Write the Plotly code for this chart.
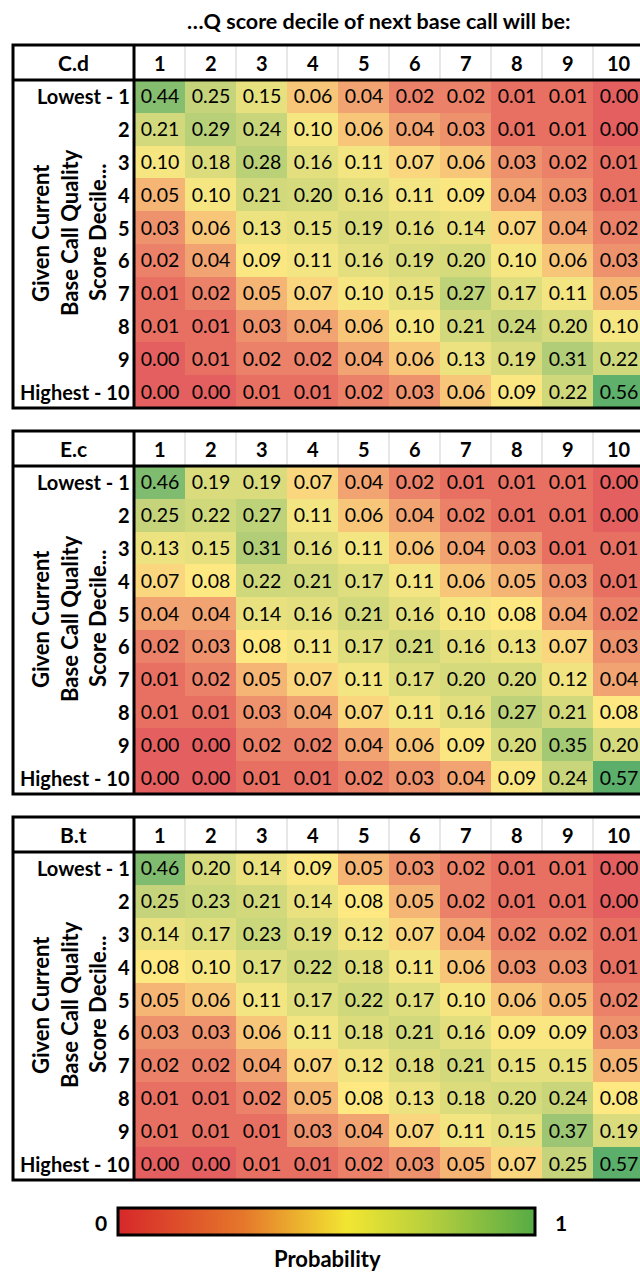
import plotly.graph_objects as go

# ---- data -------------------------------------------------------------
next_decile = ["1", "2", "3", "4", "5", "6", "7", "8", "9", "10"]
current_decile = ["Lowest - 1", "2", "3", "4", "5", "6", "7", "8", "9", "Highest - 10"]
panel_names = ["C.d", "E.c", "B.t"]

cd_probs = [
    [0.44, 0.25, 0.15, 0.06, 0.04, 0.02, 0.02, 0.01, 0.01, 0.00],
    [0.21, 0.29, 0.24, 0.10, 0.06, 0.04, 0.03, 0.01, 0.01, 0.00],
    [0.10, 0.18, 0.28, 0.16, 0.11, 0.07, 0.06, 0.03, 0.02, 0.01],
    [0.05, 0.10, 0.21, 0.20, 0.16, 0.11, 0.09, 0.04, 0.03, 0.01],
    [0.03, 0.06, 0.13, 0.15, 0.19, 0.16, 0.14, 0.07, 0.04, 0.02],
    [0.02, 0.04, 0.09, 0.11, 0.16, 0.19, 0.20, 0.10, 0.06, 0.03],
    [0.01, 0.02, 0.05, 0.07, 0.10, 0.15, 0.27, 0.17, 0.11, 0.05],
    [0.01, 0.01, 0.03, 0.04, 0.06, 0.10, 0.21, 0.24, 0.20, 0.10],
    [0.00, 0.01, 0.02, 0.02, 0.04, 0.06, 0.13, 0.19, 0.31, 0.22],
    [0.00, 0.00, 0.01, 0.01, 0.02, 0.03, 0.06, 0.09, 0.22, 0.56],
]
ec_probs = [
    [0.46, 0.19, 0.19, 0.07, 0.04, 0.02, 0.01, 0.01, 0.01, 0.00],
    [0.25, 0.22, 0.27, 0.11, 0.06, 0.04, 0.02, 0.01, 0.01, 0.00],
    [0.13, 0.15, 0.31, 0.16, 0.11, 0.06, 0.04, 0.03, 0.01, 0.01],
    [0.07, 0.08, 0.22, 0.21, 0.17, 0.11, 0.06, 0.05, 0.03, 0.01],
    [0.04, 0.04, 0.14, 0.16, 0.21, 0.16, 0.10, 0.08, 0.04, 0.02],
    [0.02, 0.03, 0.08, 0.11, 0.17, 0.21, 0.16, 0.13, 0.07, 0.03],
    [0.01, 0.02, 0.05, 0.07, 0.11, 0.17, 0.20, 0.20, 0.12, 0.04],
    [0.01, 0.01, 0.03, 0.04, 0.07, 0.11, 0.16, 0.27, 0.21, 0.08],
    [0.00, 0.00, 0.02, 0.02, 0.04, 0.06, 0.09, 0.20, 0.35, 0.20],
    [0.00, 0.00, 0.01, 0.01, 0.02, 0.03, 0.04, 0.09, 0.24, 0.57],
]
bt_probs = [
    [0.46, 0.20, 0.14, 0.09, 0.05, 0.03, 0.02, 0.01, 0.01, 0.00],
    [0.25, 0.23, 0.21, 0.14, 0.08, 0.05, 0.02, 0.01, 0.01, 0.00],
    [0.14, 0.17, 0.23, 0.19, 0.12, 0.07, 0.04, 0.02, 0.02, 0.01],
    [0.08, 0.10, 0.17, 0.22, 0.18, 0.11, 0.06, 0.03, 0.03, 0.01],
    [0.05, 0.06, 0.11, 0.17, 0.22, 0.17, 0.10, 0.06, 0.05, 0.02],
    [0.03, 0.03, 0.06, 0.11, 0.18, 0.21, 0.16, 0.09, 0.09, 0.03],
    [0.02, 0.02, 0.04, 0.07, 0.12, 0.18, 0.21, 0.15, 0.15, 0.05],
    [0.01, 0.01, 0.02, 0.05, 0.08, 0.13, 0.18, 0.20, 0.24, 0.08],
    [0.01, 0.01, 0.01, 0.03, 0.04, 0.07, 0.11, 0.15, 0.37, 0.19],
    [0.00, 0.00, 0.01, 0.01, 0.02, 0.03, 0.05, 0.07, 0.25, 0.57],
]
panel_probs = [cd_probs, ec_probs, bt_probs]

# ---- geometry (pixels) --------------------------------------------------
W, H = 640, 1274
PANEL_TOPS = [45, 431, 817]
HEADER_H = 35
ROW_H = 32.8
BOX_LEFT = 13
LABEL_RIGHT = 134
COL_W = 51
FONT = "Lato"


def px(x):
    return x / W


def py(y):
    return 1 - y / H


def bold(size):
    return dict(family=FONT, size=size, color="black", weight="bold")


# cell colour scale: red -> yellow -> green (3-colour conditional format)
Z_MAX = 0.57
cell_scale = [[0.0, "#E45F5F"], [0.08 / Z_MAX, "#FDE882"], [1.0, "#5BAF6A"]]
legend_scale = [[0.0, "#D7282A"], [0.3, "#E5772B"], [0.55, "#F2E631"],
                [0.75, "#B5CF3D"], [1.0, "#56AB45"]]

fig = go.Figure()
shapes = []
annotations = []
layout_axes = {}

grid_right = LABEL_RIGHT + COL_W * len(next_decile)
x_end = len(next_decile) - 0.5 - (grid_right - W) / COL_W
x_idx = list(range(len(next_decile)))
y_idx = list(range(len(current_decile)))

for i, (name, probs) in enumerate(zip(panel_names, panel_probs)):
    sfx = "" if i == 0 else str(i + 1)
    top = PANEL_TOPS[i]
    data_top = top + HEADER_H
    data_bot = data_top + ROW_H * len(current_decile)

    fig.add_trace(go.Heatmap(
        z=probs, x=x_idx, y=y_idx,
        xaxis="x" + sfx, yaxis="y" + sfx,
        zmin=0, zmax=Z_MAX, colorscale=cell_scale, showscale=False,
        texttemplate="%{z:.2f}",
        textfont=dict(family=FONT, size=19.5, color="black"),
        hoverinfo="skip",
    ))
    layout_axes["xaxis" + sfx] = dict(
        domain=[px(LABEL_RIGHT), 1], range=[-0.5, x_end],
        showticklabels=False, ticks="", showgrid=False, zeroline=False,
        anchor="y" + sfx, fixedrange=True,
    )
    layout_axes["yaxis" + sfx] = dict(
        domain=[py(data_bot), py(data_top)], range=[len(current_decile) - 0.5, -0.5],
        showticklabels=False, ticks="", showgrid=False,
        zeroline=False, anchor="x" + sfx, fixedrange=True,
    )

    # header: panel name and next-decile numbers
    annotations.append(dict(
        text=name, x=px((BOX_LEFT + LABEL_RIGHT) / 2), y=py(top + HEADER_H / 2),
        xref="paper", yref="paper", xanchor="center", yanchor="middle",
        showarrow=False, font=bold(21),
    ))
    for k, lab in enumerate(next_decile):
        annotations.append(dict(
            text=lab, x=k, y=py(top + HEADER_H / 2), xref="x" + sfx, yref="paper",
            xanchor="center", yanchor="middle", showarrow=False, font=bold(20),
        ))
    # row labels
    for k, lab in enumerate(current_decile):
        annotations.append(dict(
            text=lab, x=px(LABEL_RIGHT - 2), y=k, xref="paper", yref="y" + sfx,
            xanchor="right", yanchor="middle", showarrow=False, font=bold(20),
        ))
    # rotated row-axis title
    mid = top + 188
    for xpos, line in zip([40, 69, 97], ["Given Current", "Base Call Quality", "Score Decile..."]):
        annotations.append(dict(
            text=line, x=px(xpos), y=py(mid), xref="paper", yref="paper",
            xanchor="center", yanchor="middle",
            textangle=-90, showarrow=False, font=bold(22),
        ))

    # light separators between header cells
    for k in range(1, len(next_decile)):
        xs = px(LABEL_RIGHT + k * COL_W)
        shapes.append(dict(type="line", xref="paper", yref="paper",
                           x0=xs, x1=xs, y0=py(top), y1=py(data_top),
                           line=dict(color="#CFCFCF", width=1)))
    # heavy borders
    black = dict(color="black", width=3)
    shapes += [
        dict(type="rect", xref="paper", yref="paper", x0=px(BOX_LEFT), x1=px(W + 10),
             y0=py(data_bot), y1=py(top), line=black),
        dict(type="line", xref="paper", yref="paper", x0=px(BOX_LEFT), x1=px(W + 10),
             y0=py(data_top), y1=py(data_top), line=black),
        dict(type="line", xref="paper", yref="paper", x0=px(LABEL_RIGHT), x1=px(LABEL_RIGHT),
             y0=py(top), y1=py(data_bot), line=black),
    ]

# probability legend bar
fig.add_trace(go.Scatter(
    x=[None], y=[None], mode="markers", xaxis="x", yaxis="y", hoverinfo="skip",
    marker=dict(color=[0], cmin=0, cmax=1, colorscale=legend_scale, showscale=True,
                colorbar=dict(orientation="h", x=px(326.5), xanchor="center",
                              y=py(1223), yanchor="middle", lenmode="pixels", len=417,
                              thicknessmode="pixels", thickness=27, outlinewidth=3,
                              outlinecolor="black", showticklabels=False, ticks="",
                              xpad=0, ypad=0)),
    showlegend=False,
))

annotations += [
    dict(text="…Q score decile of next base call will be:", x=px(378), y=py(21),
         font=bold(21.5)),
    dict(text="0", x=px(101), y=py(1222), font=bold(21)),
    dict(text="1", x=px(561), y=py(1222), font=bold(21)),
    dict(text="Probability", x=px(327), y=py(1258), font=bold(22)),
]
for a in annotations[-4:]:
    a.update(xref="paper", yref="paper", xanchor="center", yanchor="middle", showarrow=False)

fig.update_layout(
    width=W, height=H, margin=dict(l=0, r=0, t=0, b=0),
    paper_bgcolor="white", plot_bgcolor="white", showlegend=False,
    shapes=shapes, annotations=annotations, **layout_axes,
)

fig.write_html("out.html")
